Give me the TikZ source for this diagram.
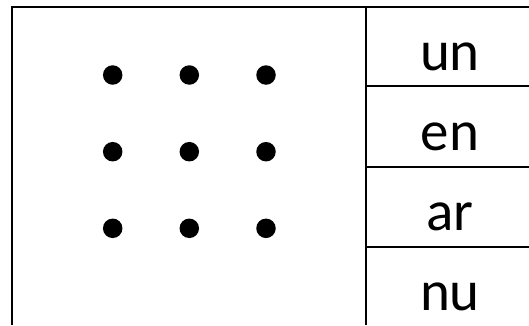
\documentclass[tikz,border=0pt]{standalone}
\usepackage{fontspec}
\setmainfont{Carlito}
\usepackage{tikz}
\usetikzlibrary{positioning}

\begin{document}
\begin{tikzpicture}[
                x=1pt, y=-1pt,
                rule/.style={line width=2pt},
                dot/.style={circle, fill=black, inner sep=0pt, minimum size=19.5pt},
                word/.style={anchor=base, inner sep=0pt, font=\fontsize{57}{60}\selectfont}
                ]
                \useasboundingbox (0,0) rectangle (529,325);

                % frame and table rules
                \draw[rule] (11.7,325) -- (11.7,7.3) -- (529,7.3);
                \draw[rule] (365.5,7.3) -- (365.5,325);
                \foreach \y in {86.3, 166.5, 246.5}
                    \draw[rule] (365.5,\y) -- (529,\y);

                % 3x3 dots
                \foreach \i/\x in {1/112.7, 2/189.3, 3/266}
                    \foreach \j/\y in {1/75, 2/151.7, 3/228.3}
                        \node[dot] (d\i\j) at (\x,\y) {};

                % words
                \node[word] (un) at (450,70) {un};
                \node[word] (en) at (450,150) {en};
                \node[word] (ar) at (450,230) {ar};
                \node[word] (nu) at (450,310) {nu};
            \end{tikzpicture}
\end{document}
